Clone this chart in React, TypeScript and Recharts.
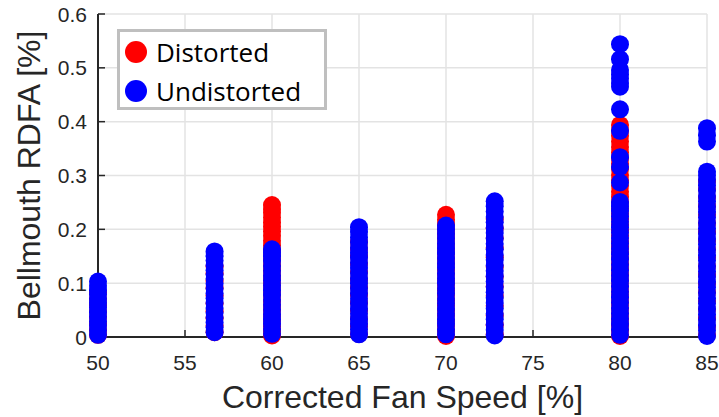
import React from 'react';
import { ScatterChart, Scatter, XAxis, YAxis, CartesianGrid, Legend } from 'recharts';

// Corrected fan speed settings [%]
const fanSpeeds = [50, 56.7, 60, 65, 70, 72.8, 80, 85];
const xTicks = [50, 55, 60, 65, 70, 75, 80, 85];
const yTicks = [0, 0.1, 0.2, 0.3, 0.4, 0.5, 0.6];

// Distorted inlet RDFA [%] per fan speed
const distorted50 = [0.004, 0.013, 0.024, 0.036, 0.047, 0.059, 0.071, 0.083];
const distorted567 = [0.009, 0.021, 0.035, 0.048, 0.062, 0.077, 0.091, 0.104, 0.118, 0.131];
const distorted60 = [0.003, 0.011, 0.02, 0.03, 0.039, 0.049, 0.058, 0.067, 0.077, 0.086, 0.096, 0.105, 0.114, 0.124, 0.133, 0.143, 0.152, 0.161, 0.17, 0.179, 0.188, 0.196, 0.205, 0.213, 0.222, 0.231, 0.238, 0.245];
const distorted65 = [0.006, 0.02, 0.034, 0.049, 0.063, 0.078, 0.092, 0.107, 0.121, 0.136, 0.15, 0.164, 0.177];
const distorted70 = [0.002, 0.011, 0.021, 0.03, 0.04, 0.049, 0.059, 0.068, 0.078, 0.087, 0.097, 0.106, 0.116, 0.125, 0.135, 0.144, 0.154, 0.163, 0.172, 0.182, 0.191, 0.2, 0.209, 0.218, 0.227];
const distorted728 = [0.005, 0.022, 0.04, 0.058, 0.076, 0.094, 0.112, 0.13, 0.148, 0.166, 0.184, 0.202, 0.219];
const distorted80 = [0.002, 0.012, 0.022, 0.033, 0.043, 0.053, 0.063, 0.074, 0.084, 0.094, 0.105, 0.115, 0.126, 0.136, 0.146, 0.157, 0.167, 0.177, 0.188, 0.198, 0.208, 0.219, 0.229, 0.239, 0.25, 0.26, 0.27, 0.281, 0.291, 0.301, 0.312, 0.322, 0.332, 0.343, 0.353, 0.363, 0.374, 0.384, 0.394];
const distorted85 = [0.004, 0.019, 0.035, 0.051, 0.067, 0.083, 0.099, 0.115, 0.131, 0.147, 0.163, 0.179, 0.195, 0.211, 0.227, 0.243, 0.259, 0.275, 0.29];

// Undistorted inlet RDFA [%] per fan speed
const undistorted50 = [0.004, 0.012, 0.021, 0.029, 0.038, 0.046, 0.055, 0.063, 0.071, 0.079, 0.087, 0.095, 0.103];
const undistorted567 = [0.009, 0.018, 0.027, 0.036, 0.045, 0.054, 0.063, 0.072, 0.081, 0.09, 0.099, 0.108, 0.116, 0.124, 0.133, 0.142, 0.15, 0.159];
const undistorted60 = [0.006, 0.015, 0.024, 0.033, 0.042, 0.051, 0.06, 0.069, 0.078, 0.087, 0.096, 0.105, 0.114, 0.123, 0.132, 0.141, 0.15, 0.158, 0.163];
const undistorted65 = [0.005, 0.014, 0.024, 0.033, 0.043, 0.052, 0.062, 0.071, 0.081, 0.09, 0.1, 0.109, 0.119, 0.128, 0.138, 0.147, 0.157, 0.166, 0.176, 0.185, 0.195, 0.204];
const undistorted70 = [0.005, 0.014, 0.024, 0.033, 0.043, 0.052, 0.062, 0.071, 0.081, 0.09, 0.1, 0.109, 0.118, 0.128, 0.137, 0.146, 0.156, 0.165, 0.174, 0.183, 0.192, 0.2, 0.207];
const undistorted728 = [0.003, 0.013, 0.023, 0.033, 0.043, 0.053, 0.063, 0.073, 0.083, 0.093, 0.103, 0.113, 0.123, 0.133, 0.143, 0.153, 0.163, 0.173, 0.183, 0.193, 0.203, 0.213, 0.223, 0.233, 0.243, 0.252];
const undistorted80 = [0.004, 0.014, 0.024, 0.034, 0.044, 0.054, 0.064, 0.074, 0.084, 0.094, 0.104, 0.114, 0.124, 0.134, 0.144, 0.154, 0.164, 0.174, 0.184, 0.194, 0.204, 0.214, 0.224, 0.234, 0.243, 0.251, 0.287, 0.316, 0.334, 0.383, 0.423, 0.465, 0.472, 0.48, 0.488, 0.496, 0.516, 0.544];
const undistorted85 = [0.002, 0.012, 0.022, 0.032, 0.042, 0.052, 0.062, 0.072, 0.082, 0.092, 0.102, 0.112, 0.122, 0.132, 0.142, 0.152, 0.162, 0.172, 0.182, 0.192, 0.202, 0.212, 0.222, 0.232, 0.242, 0.252, 0.262, 0.272, 0.282, 0.292, 0.3, 0.307, 0.363, 0.375, 0.388];

const distortedRuns = [distorted50, distorted567, distorted60, distorted65, distorted70, distorted728, distorted80, distorted85];
const undistortedRuns = [undistorted50, undistorted567, undistorted60, undistorted65, undistorted70, undistorted728, undistorted80, undistorted85];

const toPoints = (runs: number[][]) =>
  fanSpeeds.flatMap((s, i) => runs[i].map((v) => ({ speed: s, rdfa: v })));

const distortedData = toPoints(distortedRuns);
const undistortedData = toPoints(undistortedRuns);

const FONT = '"Liberation Sans", Arial, Helvetica, sans-serif';
const TEXT = '#262626';

const makeDot = (color: string) => (props: any) => (
  <circle cx={props.cx} cy={props.cy} r={9} fill={color} />
);

const XTick = (props: any) => (
  <text x={props.x} y={props.y + 15} textAnchor="middle" fontSize={21} fill={TEXT} fontFamily={FONT}>
    {String(props.payload.value)}
  </text>
);

const YTick = (props: any) => (
  <text x={props.x} y={props.y + 7.5} textAnchor="end" fontSize={21} fill={TEXT} fontFamily={FONT}>
    {String(props.payload.value)}
  </text>
);

const XLabel = (props: any) => {
  const vb = props.viewBox || { x: 98, y: 337, width: 609, height: 80 };
  return (
    <text x={vb.x + vb.width / 2} y={vb.y + 71} textAnchor="middle" fontSize={32} fill={TEXT} fontFamily={FONT}>
      Corrected Fan Speed [%]
    </text>
  );
};

const YLabel = (props: any) => {
  const vb = props.viewBox || { x: 0, y: 14, width: 98, height: 323 };
  const cx = vb.x + 40;
  const cy = vb.y + vb.height / 2;
  return (
    <text x={cx} y={cy} transform={`rotate(-90 ${cx} ${cy})`} textAnchor="middle" fontSize={32} fill={TEXT} fontFamily={FONT}>
      Bellmouth RDFA [%]
    </text>
  );
};

const LegendBox = (props: any) => {
  const payload = props.payload || [];
  return (
    <div style={{ position: 'relative', width: 210, height: 81, boxSizing: 'border-box', border: '3px solid #bfbfbf', background: '#fff' }}>
      {payload.map((p: any, i: number) => (
        <div key={p.value} style={{ position: 'absolute', left: 0, top: i * 39 + 1, height: 38, width: 204 }}>
          <span style={{ position: 'absolute', left: 5, top: 8, width: 22, height: 22, borderRadius: 11, background: p.color }} />
          <span style={{ position: 'absolute', left: 36, top: 0, fontSize: 26, lineHeight: '38px', color: '#000', fontFamily: '"Open Sans", sans-serif', whiteSpace: 'nowrap' }}>
            {p.value}
          </span>
        </div>
      ))}
    </div>
  );
};

export default function App() {
  return (
    <div style={{ position: 'absolute', left: 0, top: 0, width: 719, height: 417, background: '#fff' }}>
      <ScatterChart width={719} height={417} margin={{ top: 14, right: 12, bottom: 0, left: 0 }}>
        <CartesianGrid stroke="#e3e3e3" strokeWidth={1.5} />
        <XAxis
          type="number"
          dataKey="speed"
          domain={[50, 85]}
          ticks={xTicks}
          interval={0}
          height={80}
          axisLine={{ stroke: TEXT, strokeWidth: 2 }}
          tickLine={{ stroke: TEXT, strokeWidth: 1.5 }}
          tickSize={-7}
          tickMargin={25}
          tick={XTick}
          label={XLabel}
        />
        <YAxis
          type="number"
          dataKey="rdfa"
          domain={[0, 0.6]}
          ticks={yTicks}
          interval={0}
          width={98}
          axisLine={{ stroke: TEXT, strokeWidth: 2 }}
          tickLine={{ stroke: TEXT, strokeWidth: 1.5 }}
          tickSize={-7}
          tickMargin={18}
          tick={YTick}
          label={YLabel}
        />
        <Legend
          layout="horizontal"
          verticalAlign="middle"
          align="center"
          content={LegendBox}
          wrapperStyle={{ left: 117, top: 29, width: 210, height: 81 }}
        />
        <Scatter name="Distorted" data={distortedData} fill="#ff0000" shape={makeDot('#ff0000')} isAnimationActive={false} />
        <Scatter name="Undistorted" data={undistortedData} fill="#0000ff" shape={makeDot('#0000ff')} isAnimationActive={false} />
      </ScatterChart>
    </div>
  );
}
